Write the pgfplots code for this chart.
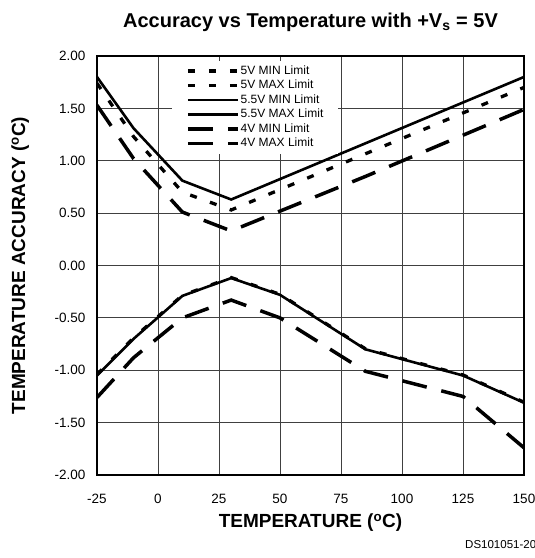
\documentclass[border=0pt]{standalone}
\usepackage{fontspec}
\setmainfont{Liberation Sans}
\usepackage{pgfplots}
\pgfplotsset{compat=1.18}
\begin{document}
\begin{tikzpicture}
\useasboundingbox (0pt,0pt) rectangle (535pt,558pt);
\begin{axis}[
  at={(97pt,83pt)}, anchor=south west,
  width=427pt, height=419pt, scale only axis,
  xmin=-25, xmax=150, ymin=-2, ymax=2,
  xtick={-25,0,25,50,75,100,125,150},
  xticklabels={-25,0,25,50,75,100,125,150},
  ytick={-2,-1.5,-1,-0.5,0,0.5,1,1.5,2},
  yticklabels={-2.00,-1.50,-1.00,-0.50,0.00,0.50,1.00,1.50,2.00},
  major tick length=0pt,
  tick label style={font=\fontsize{13.5}{15}\selectfont},
  xticklabel style={anchor=base, yshift=-28pt},
  yticklabel style={anchor=east, xshift=-8pt},
  grid=major,
  major grid style={black!75, line width=0.8pt},
  axis line style={black, line width=1.2pt},
  title={Accuracy vs Temperature with +V\textsubscript{s} = 5V},
  title style={at={(axis description cs:0.5,1.066)}, anchor=center, font=\bfseries\fontsize{20}{23}\selectfont},
  xlabel={TEMPERATURE (\textsuperscript{o}C)},
  xlabel style={at={(axis description cs:0.5,-0.114)}, anchor=center, font=\bfseries\fontsize{19}{22}\selectfont},
  ylabel={TEMPERATURE ACCURACY (\textsuperscript{o}C)},
  ylabel style={at={(axis description cs:-0.180,0.5)}, anchor=center, font=\bfseries\fontsize{19}{22}\selectfont},
  legend cell align=left,
  legend style={at={(rel axis cs:0.1756,0.989)}, anchor=north west, draw=none, fill=white,
    inner xsep=14pt, inner ysep=4pt, row sep=2pt,
    font=\fontsize{12}{14}\selectfont,
    nodes={inner sep=1pt, text height=8.5pt, text depth=2pt}},
  legend image code/.code={\draw[#1] (0pt,0pt) -- (50pt,0pt);},
  short/.style={black, line width=3.3pt, dash pattern=on 7pt off 14pt},
  solidl/.style={black, line width=2.6pt},
  longd/.style={black, line width=3.5pt, dash pattern=on 25pt off 15pt},
]
% 5V MIN
\addplot[short] coordinates {(-25,-1.04) (-10,-0.69) (10,-0.285) (30,-0.115) (50,-0.275) (85,-0.795) (125,-1.045) (150,-1.305)};
\addlegendentry{5V MIN Limit}
% 5V MAX
\addplot[short] coordinates {(-25,1.74) (-10,1.23) (10,0.70) (30,0.53) (150,1.70)};
\addlegendentry{5V MAX Limit}
% 5.5V MIN
\addplot[solidl] coordinates {(-25,-1.05) (-10,-0.70) (10,-0.29) (30,-0.12) (50,-0.28) (85,-0.80) (125,-1.05) (150,-1.31)};
\addlegendentry{5.5V MIN Limit}
% 5.5V MAX
\addplot[solidl] coordinates {(-25,1.80) (-10,1.31) (10,0.81) (30,0.63) (150,1.80)};
\addlegendentry{5.5V MAX Limit}
% 4V MIN
\addplot[longd] coordinates {(-25,-1.26) (-10,-0.88) (10,-0.50) (30,-0.33) (50,-0.50) (85,-1.01) (125,-1.25) (150,-1.74)};
\addlegendentry{4V MIN Limit}
% 4V MAX
\addplot[longd] coordinates {(-25,1.53) (-10,1.02) (10,0.51) (30,0.33) (85,0.85) (150,1.49)};
\addlegendentry{4V MAX Limit}
\end{axis}
\node[anchor=west, inner sep=0pt, font=\fontsize{11.5}{13}\selectfont] at (465pt,13pt) {DS101051-20};
\end{tikzpicture}
\end{document}
